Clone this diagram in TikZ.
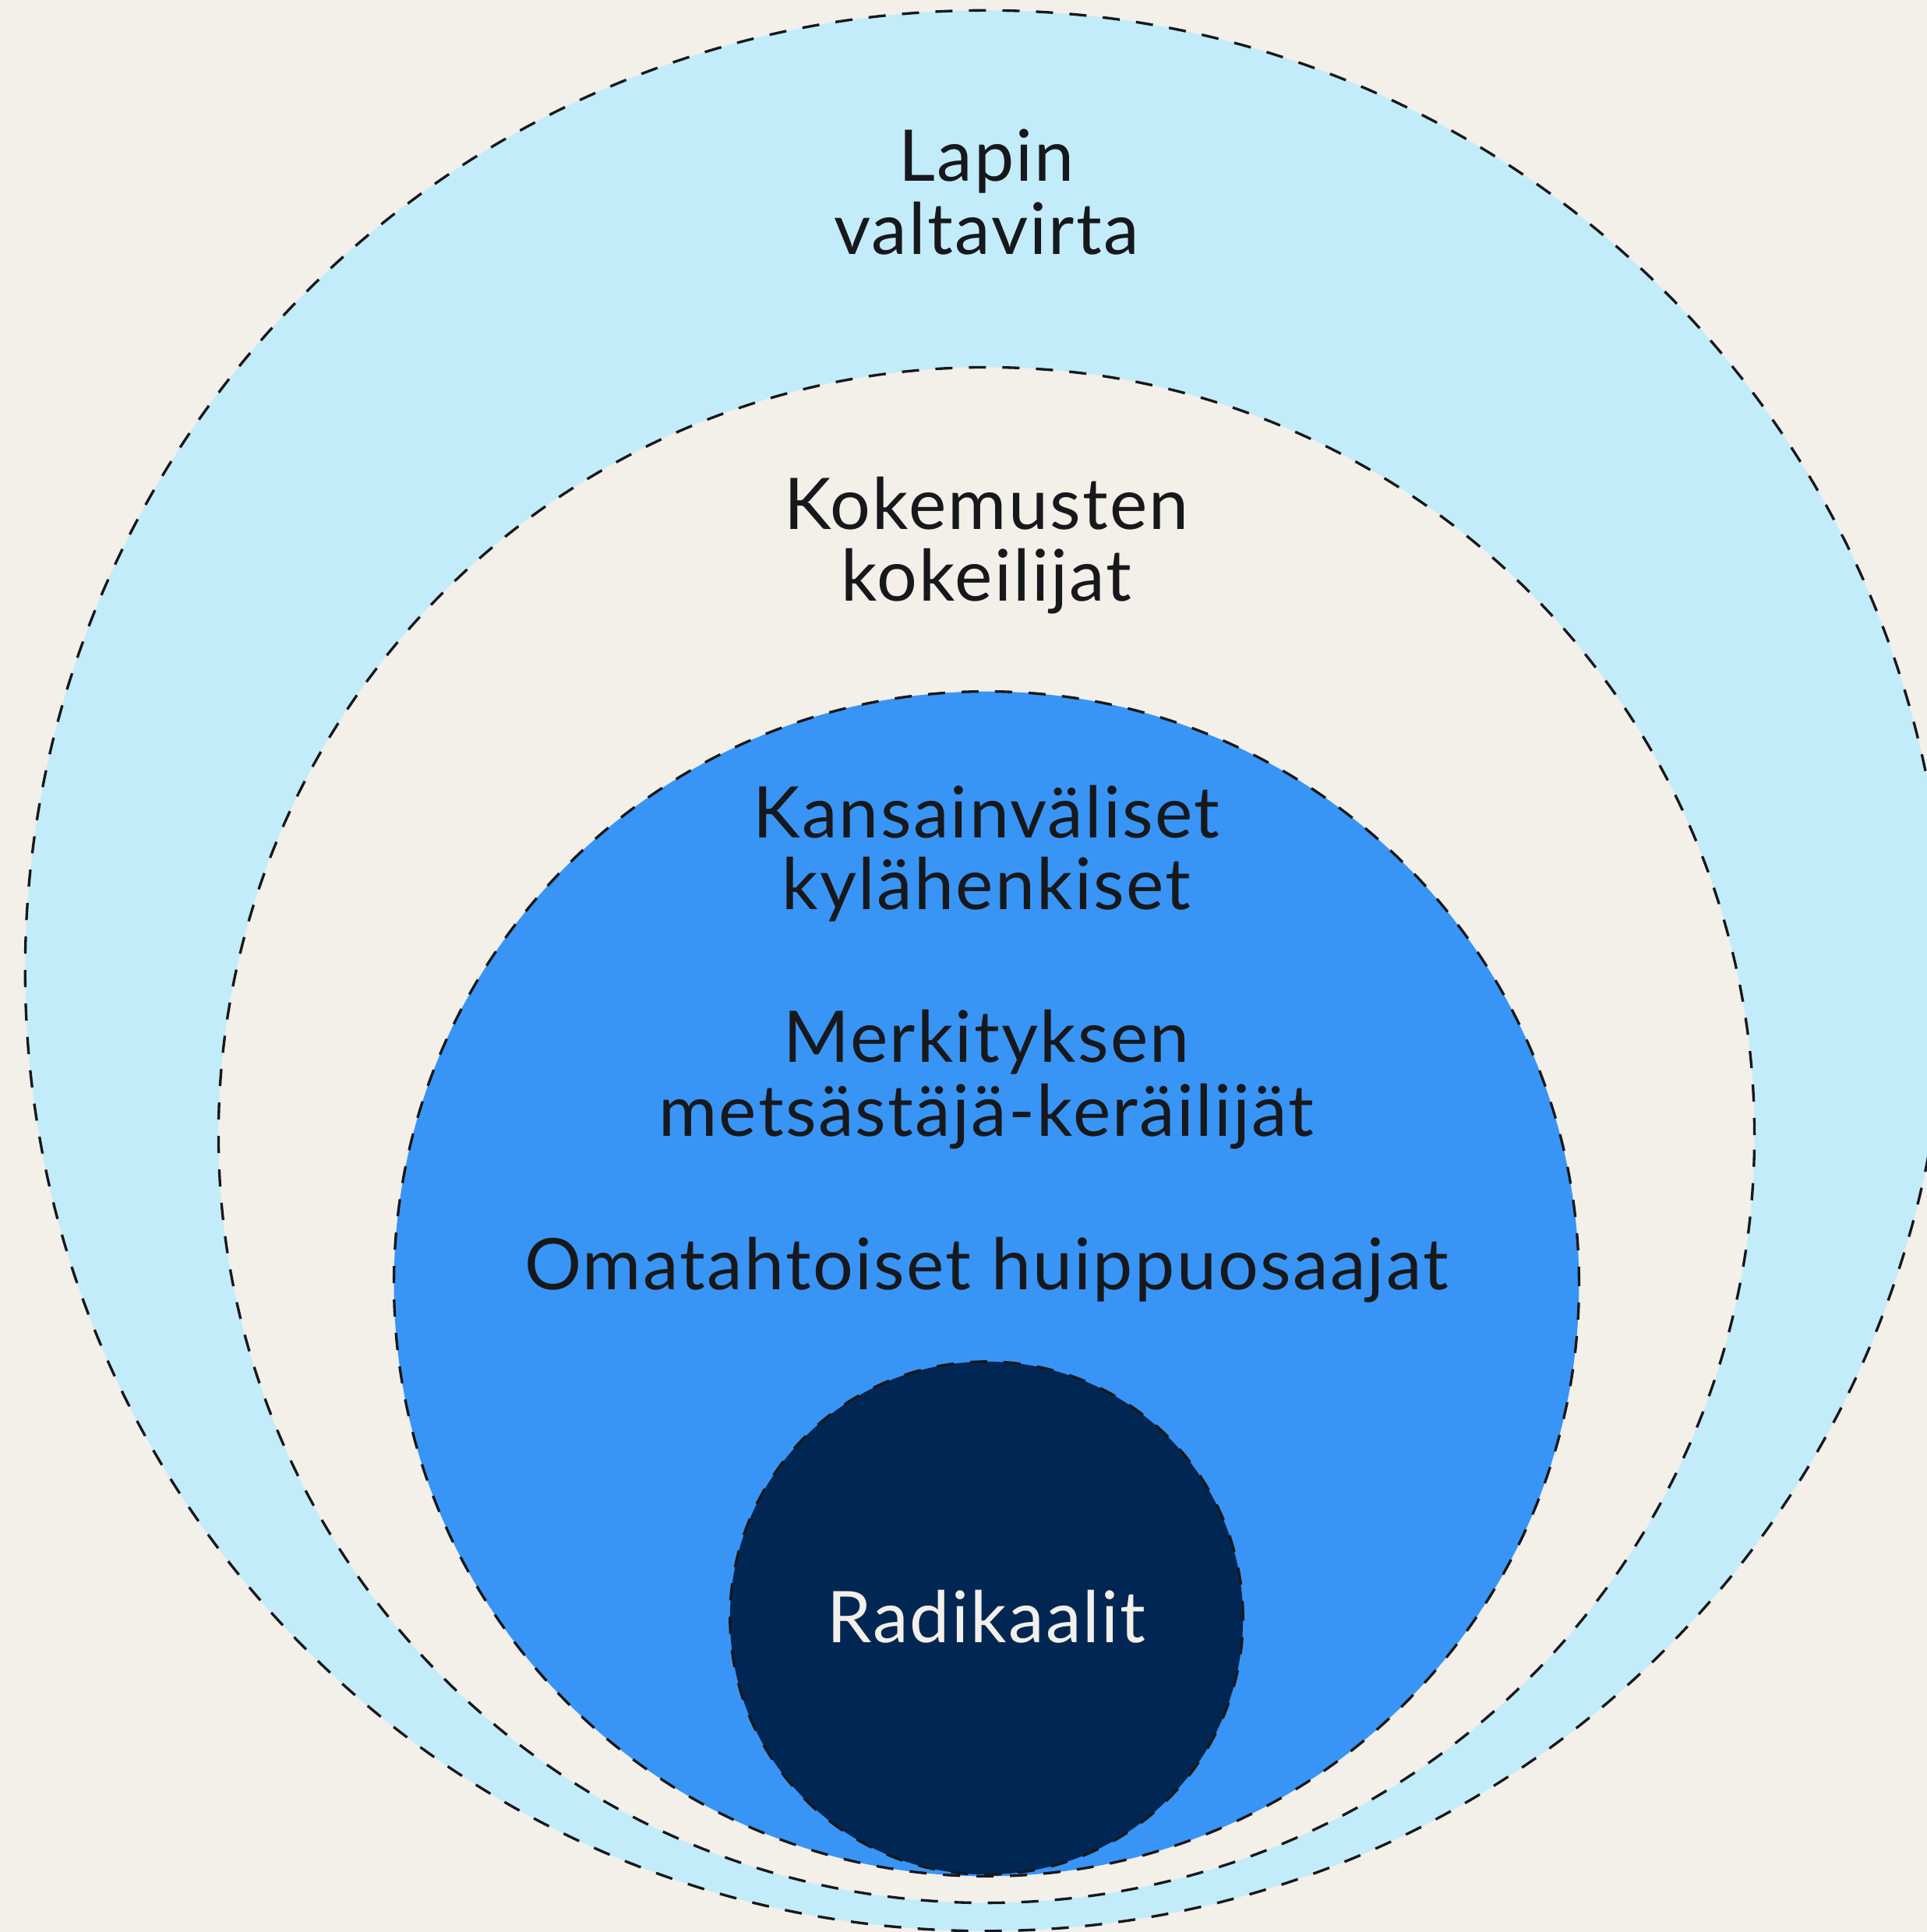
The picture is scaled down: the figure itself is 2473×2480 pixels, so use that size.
\documentclass[tikz,border=0pt]{standalone}
\usepackage{fontspec}
\setmainfont[LetterSpace=2.5]{Lato}
\definecolor{bgbeige}{RGB}{243,239,233}
\definecolor{lightblue}{RGB}{195,236,250}
\definecolor{midblue}{RGB}{57,149,245}
\definecolor{navy}{RGB}{0,39,83}
\definecolor{ink}{RGB}{23,24,28}
\tikzset{
  ring/.style={draw=ink, line width=0.95pt, dash pattern=on 0.22cm off 0.21cm},
  lbl/.style={anchor=base, inner sep=0pt, text=ink, font=\fontsize{26}{30}\selectfont},
  lbllight/.style={lbl, text=bgbeige}
}
\begin{document}
\begin{tikzpicture}[x=0.01cm,y=-0.01cm]
\useasboundingbox (0,0) rectangle (2473,2480);
\clip (0,0) rectangle (2473,2480);
\fill[bgbeige] (0,0) rectangle (2473,2480);
\draw[ring, fill=lightblue] (1265,1246) circle[radius=12.32cm];
\draw[ring, fill=bgbeige] (1266,1457) circle[radius=9.85cm];
\draw[ring, fill=midblue] (1266,1648) circle[radius=7.60cm];
\draw[ring, fill=navy] (1266,2077) circle[radius=3.29cm];
\node[lbl] (l1) at (1266,232) {Lapin};
\node[lbl] (l2) at (1266,326) {valtavirta};
\node[lbl] (k1) at (1266,679) {Kokemusten};
\node[lbl] (k2) at (1266,771) {kokeilijat};
\node[lbl] (ka1) at (1266,1075) {Kansainväliset};
\node[lbl] (ka2) at (1266,1167) {kylähenkiset};
\node[lbl] (m1) at (1266,1363) {Merkityksen};
\node[lbl] (m2) at (1266,1458) {metsästäjä-keräilijät};
\node[lbl] (o1) at (1266,1655) {Omatahtoiset huippuosaajat};
\node[lbllight] (r1) at (1266,2108) {Radikaalit};
\end{tikzpicture}
\end{document}
